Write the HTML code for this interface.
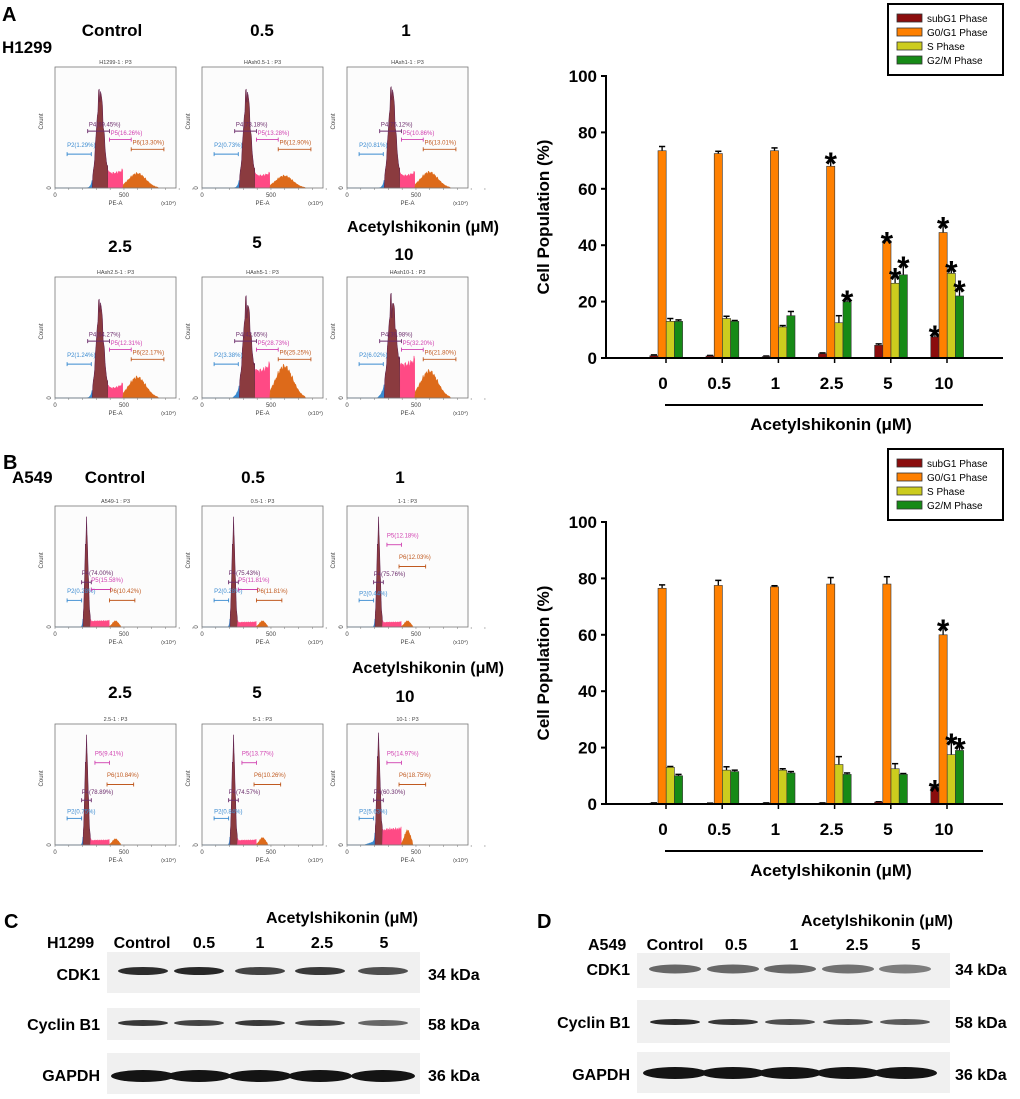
<!DOCTYPE html>
<html><head><meta charset="utf-8">
<style>
html,body{margin:0;padding:0;background:#fff;}
svg{display:block;font-family:"Liberation Sans",Arial,sans-serif;}
.b{font-weight:bold;}
</style></head>
<body>
<svg id="fig" width="1020" height="1099" viewBox="0 0 1020 1099" xmlns="http://www.w3.org/2000/svg">
<g id="static">
<text x="2" y="21" class="b" font-size="20">A</text>
<text x="2" y="53" class="b" font-size="17">H1299</text>
<text x="112" y="36" class="b" font-size="17" text-anchor="middle">Control</text>
<text x="262" y="36" class="b" font-size="17" text-anchor="middle">0.5</text>
<text x="406" y="36" class="b" font-size="17" text-anchor="middle">1</text>
<text x="423" y="232" class="b" font-size="16" text-anchor="middle">Acetylshikonin (μM)</text>
<text x="120" y="252" class="b" font-size="17" text-anchor="middle">2.5</text>
<text x="257" y="248" class="b" font-size="17" text-anchor="middle">5</text>
<text x="404" y="260" class="b" font-size="17" text-anchor="middle">10</text>

<text x="3" y="469" class="b" font-size="20">B</text>
<text x="12" y="483" class="b" font-size="17">A549</text>
<text x="115" y="483" class="b" font-size="17" text-anchor="middle">Control</text>
<text x="253" y="483" class="b" font-size="17" text-anchor="middle">0.5</text>
<text x="400" y="483" class="b" font-size="17" text-anchor="middle">1</text>
<text x="428" y="673" class="b" font-size="16" text-anchor="middle">Acetylshikonin (μM)</text>
<text x="120" y="698" class="b" font-size="17" text-anchor="middle">2.5</text>
<text x="257" y="698" class="b" font-size="17" text-anchor="middle">5</text>
<text x="405" y="702" class="b" font-size="17" text-anchor="middle">10</text>

<text x="4" y="928" class="b" font-size="20">C</text>
<text x="342" y="923" class="b" font-size="16" text-anchor="middle">Acetylshikonin (μM)</text>
<text x="47" y="948" class="b" font-size="16">H1299</text>
<text x="142" y="948" class="b" font-size="16" text-anchor="middle">Control</text>
<text x="204" y="948" class="b" font-size="16" text-anchor="middle">0.5</text>
<text x="260" y="948" class="b" font-size="16" text-anchor="middle">1</text>
<text x="322" y="948" class="b" font-size="16" text-anchor="middle">2.5</text>
<text x="384" y="948" class="b" font-size="16" text-anchor="middle">5</text>
<text x="100" y="980" class="b" font-size="16" text-anchor="end">CDK1</text>
<text x="100" y="1030" class="b" font-size="16" text-anchor="end">Cyclin B1</text>
<text x="100" y="1081" class="b" font-size="16" text-anchor="end">GAPDH</text>
<text x="428" y="980" class="b" font-size="16">34 kDa</text>
<text x="428" y="1030" class="b" font-size="16">58 kDa</text>
<text x="428" y="1081" class="b" font-size="16">36 kDa</text>

<text x="537" y="928" class="b" font-size="20">D</text>
<text x="877" y="926" class="b" font-size="16" text-anchor="middle">Acetylshikonin (μM)</text>
<text x="588" y="950" class="b" font-size="16">A549</text>
<text x="675" y="950" class="b" font-size="16" text-anchor="middle">Control</text>
<text x="736" y="950" class="b" font-size="16" text-anchor="middle">0.5</text>
<text x="794" y="950" class="b" font-size="16" text-anchor="middle">1</text>
<text x="857" y="950" class="b" font-size="16" text-anchor="middle">2.5</text>
<text x="916" y="950" class="b" font-size="16" text-anchor="middle">5</text>
<text x="630" y="975" class="b" font-size="16" text-anchor="end">CDK1</text>
<text x="630" y="1028" class="b" font-size="16" text-anchor="end">Cyclin B1</text>
<text x="630" y="1080" class="b" font-size="16" text-anchor="end">GAPDH</text>
<text x="955" y="975" class="b" font-size="16">34 kDa</text>
<text x="955" y="1028" class="b" font-size="16">58 kDa</text>
<text x="955" y="1080" class="b" font-size="16">36 kDa</text>
</g>
</svg>
<script>
const NS="http://www.w3.org/2000/svg";
const svg=document.getElementById('fig');
function mk(tag,attrs,parent,txt){const e=document.createElementNS(NS,tag);for(const k in attrs)e.setAttribute(k,attrs[k]);if(txt!==undefined)e.textContent=txt;(parent||svg).appendChild(e);return e;}

const doses=["0","0.5","1","2.5","5","10"];
const phases=["subG1 Phase","G0/G1 Phase","S Phase","G2/M Phase"];
const phaseColors=["#8b0d0d","#ff8000","#cccc1e","#168a16"];
const yTicks=[0,20,40,60,80,100];
const aSubG1=[0.8,0.7,0.5,1.5,4.5,7.5];
const aG0G1=[73.5,72.5,73.5,68,41.5,44.5];
const aS=[13,14,11,12.5,26.5,30];
const aG2M=[13,13,15,20,29.5,22];
const aSubG1Err=[0.3,0.2,0.2,0.3,0.5,2];
const aG0G1Err=[1.5,0.8,1,3,1.2,3.5];
const aSErr=[1,0.8,0.5,2.5,3.5,2.5];
const aG2MErr=[0.5,0.3,1.5,2,4.5,3.5];
const aStars=[[0,0,0,0,0,1],[0,0,0,1,1,1],[0,0,0,0,1,1],[0,0,0,1,1,1]];
const bSubG1=[0.3,0.2,0.3,0.3,0.7,6];
const bG0G1=[76.5,77.5,77,78,78,60];
const bS=[13,12,12,14,12.5,17.5];
const bG2M=[10,11.5,11,10.5,10.5,19];
const bSubG1Err=[0.1,0.1,0.1,0.1,0.1,0.5];
const bG0G1Err=[1.2,1.8,0.4,2.3,2.6,3.5];
const bSErr=[0.3,1.2,0.5,2.8,1.8,5.5];
const bG2MErr=[0.5,0.5,0.5,0.5,0.3,2.5];
const bStars=[[0,0,0,0,0,1],[0,0,0,0,0,1],[0,0,0,0,0,1],[0,0,0,0,0,1]];

function barChart(cfg){
  const g=mk('g',{},svg);
  
  
  const x0=606,x1=1003,yb=cfg.y0,yt=cfg.y100;
  const Y=v=>yb-(v/100)*(yb-yt);
  const X=i=>662+i*56.2;
  const bw=8.2;
  cfg.series.forEach((vals,s)=>{
    vals.forEach((v,i)=>{
      const bx=X(i)-4+(s-1)*bw;
      const top=Y(v);
      const e=cfg.errs[s][i];
      const ey=Y(v+e);
      const er=mk('line',{x1:bx+bw/2,x2:bx+bw/2,y1:top,y2:ey,stroke:'#000','stroke-width':1.3},g);
      
      
      const cap=mk('line',{x1:bx+1,x2:bx+bw-1,y1:ey,y2:ey,stroke:'#000','stroke-width':1.5},g);
      
      
      const r=mk('rect',{x:bx,y:top,width:bw,height:Math.max(yb-top,0.5),fill:phaseColors[s],stroke:'#333','stroke-width':0.6},g);
      
      
      if(cfg.stars[s][i]){
        const st=mk('text',{x:bx+bw/2,y:ey+17,'text-anchor':'middle','font-size':32,'font-weight':'bold'},g,'*');
        
        
      }
    });
  });
  const ya=mk('line',{x1:x0,x2:x0,y1:yt-1,y2:yb,stroke:'#000','stroke-width':2},g);
  
  
  const xa=mk('line',{x1:x0-5,x2:x1,y1:yb,y2:yb,stroke:'#000','stroke-width':2},g);
  
  
  yTicks.forEach(t=>{
    mk('line',{x1:x0-5,x2:x0,y1:Y(t),y2:Y(t),stroke:'#000','stroke-width':2},g);
    const tl=mk('text',{x:x0-9,y:Y(t)+6,'text-anchor':'end','font-size':17,'font-weight':'bold'},g,String(t));
    
    
  });
  doses.forEach((d,i)=>{
    mk('line',{x1:X(i)+4,x2:X(i)+4,y1:yb,y2:yb+5,stroke:'#000','stroke-width':1.5},g);
    const tl=mk('text',{x:X(i)+1,y:yb+31,'text-anchor':'middle','font-size':17,'font-weight':'bold'},g,d);
    
    
  });
  const yt2=mk('text',{x:0,y:0,'text-anchor':'middle','font-size':17,'font-weight':'bold',transform:`translate(549,${(yb+yt)/2}) rotate(-90)`},g,'Cell Population (%)');
  
  
  mk('line',{x1:665,x2:983,y1:yb+47,y2:yb+47,stroke:'#000','stroke-width':2},g);
  const xt=mk('text',{x:831,y:yb+72,'text-anchor':'middle','font-size':17,'font-weight':'bold'},g,'Acetylshikonin (μM)');
  
  
  const lg=mk('g',{},g);
  
  
  const ly=cfg.legY;
  mk('rect',{x:888,y:ly,width:115,height:71,fill:'#fff',stroke:'#000','stroke-width':2},lg);
  phases.forEach((p,s)=>{
    const yy=ly+10+s*14;
    mk('rect',{x:897,y:yy,width:25,height:8,fill:phaseColors[s],stroke:'#333','stroke-width':0.8},lg);
    const t=mk('text',{x:927,y:yy+8,'font-size':10},lg,p);
    
    
  });
}
barChart({name:'bar-chart-h1299',y0:358,y100:76,legY:4,series:[aSubG1,aG0G1,aS,aG2M],errs:[aSubG1Err,aG0G1Err,aSErr,aG2MErr],stars:aStars});
barChart({name:'bar-chart-a549',y0:804,y100:522,legY:449,series:[bSubG1,bG0G1,bS,bG2M],errs:[bSubG1Err,bG0G1Err,bSErr,bG2MErr],stars:bStars});

const panelTitles=["H1299-1 : P3","HAsh0.5-1 : P3","HAsh1-1 : P3","HAsh2.5-1 : P3","HAsh5-1 : P3","HAsh10-1 : P3",
 "A549-1 : P3","0.5-1 : P3","1-1 : P3","2.5-1 : P3","5-1 : P3","10-1 : P3"];
const gateP2=["P2(1.29%)","P2(0.73%)","P2(0.81%)","P2(1.24%)","P2(3.38%)","P2(6.02%)","P2(0.28%)","P2(0.28%)","P2(0.44%)","P2(0.75%)","P2(0.84%)","P2(5.63%)"];
const gateP4=["P4(69.45%)","P4(73.18%)","P4(75.12%)","P4(64.27%)","P4(42.65%)","P4(39.98%)","P4(74.00%)","P4(75.43%)","P4(75.76%)","P4(78.89%)","P4(74.57%)","P4(60.30%)"];
const gateP5=["P5(16.26%)","P5(13.28%)","P5(10.86%)","P5(12.31%)","P5(28.73%)","P5(32.20%)","P5(15.58%)","P5(11.81%)","P5(12.18%)","P5(9.41%)","P5(13.77%)","P5(14.97%)"];
const gateP6=["P6(13.30%)","P6(12.90%)","P6(13.01%)","P6(22.17%)","P6(25.25%)","P6(21.80%)","P6(10.42%)","P6(11.81%)","P6(12.03%)","P6(10.84%)","P6(10.26%)","P6(18.75%)"];
const peakH=[0.78,0.78,0.8,0.78,0.72,0.72,0.83,0.83,0.83,0.83,0.83,0.84];
const sH=[0.12,0.1,0.1,0.08,0.22,0.27,0.05,0.04,0.04,0.04,0.04,0.13];
const g2H=[0.12,0.1,0.13,0.17,0.26,0.22,0.05,0.05,0.05,0.05,0.06,0.12];
const tailH=[0.01,0.01,0.01,0.01,0.1,0.12,0,0,0,0,0,0.04];
const panelX=[55,202,347];
const panelY=[67,277,506,724];
const PW=121,PH=121;

function hist(idx){
  const row=Math.floor(idx/3),col=idx%3;
  const px=panelX[col],py=panelY[row];
  const isB=row>=2;
  const g=mk('g',{},svg);
  
  
  mk('rect',{x:px,y:py,width:PW,height:PH,fill:'#fcfcfc'},g);
  mk('text',{x:px+PW/2,y:py-3,'text-anchor':'middle','font-size':5.5,fill:'#444'},g,panelTitles[idx]);
  const pc=isB?0.26:0.37, pw=isB?0.013:0.028;
  const sEnd=isB?0.45:0.56, g2c=isB?0.5:0.68, g2w=isB?0.025:0.07, end=isB?0.55:0.86;
  const N=160;
  const pts=[];
  for(let k=0;k<=N;k++){
    const f=k/N*end;
    let h=peakH[idx]*Math.exp(-Math.pow((f-pc)/pw,2)/2);
    if(f>pc&&f<sEnd)h+=sH[idx]*(1-Math.exp(-(f-pc)/0.02));
    h+=g2H[idx]*Math.exp(-Math.pow((f-g2c)/g2w,2)/2);
    if(f<pc&&f>pc-0.12)h+=tailH[idx]*(f-(pc-0.12))/0.12;
    h*=(1+0.12*Math.sin(k*2.7)*Math.sin(k*1.3));
    if(f>end-0.01)h=0;
    pts.push([f,Math.min(h,0.95)]);
  }
  const bnds=[0,pc-2.2*pw,pc+2.5*pw,sEnd,end];
  const cols=['#3a8ad0','#8b3b3f','#ff4a85','#dd6a1a'];
  const base=py+PH;
  for(let r=0;r<4;r++){
    let d=`M${px+bnds[r]*PW},${base}`;
    pts.forEach(p=>{if(p[0]>=bnds[r]&&p[0]<=bnds[r+1])d+=`L${px+p[0]*PW},${base-p[1]*PH}`;});
    d+=`L${px+bnds[r+1]*PW},${base}Z`;
    mk('path',{d:d,fill:cols[r],stroke:r==1?'#5a1a4a':cols[r],'stroke-width':0.5},g);
  }
  mk('rect',{x:px,y:py,width:PW,height:PH,fill:'none',stroke:'#777','stroke-width':0.8},g);
  for(let t=0;t<=10;t++){mk('line',{x1:px+t*PW*0.114,x2:px+t*PW*0.114,y1:base,y2:base+2,stroke:'#777','stroke-width':0.5},g);}
  mk('text',{x:px,y:base+9,'text-anchor':'middle','font-size':6,fill:'#444'},g,'0');
  mk('text',{x:px+0.57*PW,y:base+9,'text-anchor':'middle','font-size':6,fill:'#444'},g,'500');
  mk('text',{x:px+0.5*PW,y:base+17,'text-anchor':'middle','font-size':6,fill:'#444'},g,'PE-A');
  mk('text',{x:px+PW,y:base+17,'text-anchor':'end','font-size':5.5,fill:'#444'},g,'(x10⁴)');
  mk('text',{x:0,y:0,'text-anchor':'middle','font-size':6,fill:'#444',transform:`translate(${px-12},${py+PH*0.45}) rotate(-90)`},g,'Count');
  mk('text',{x:0,y:0,'text-anchor':'middle','font-size':6,fill:'#444',transform:`translate(${px-4},${base}) rotate(-90)`},g,'0');
  function gate(x1,x2,yf,color,label,lx,ly){
    const y=py+yf*PH;
    mk('line',{x1:px+x1*PW,x2:px+x2*PW,y1:y,y2:y,stroke:color,'stroke-width':0.9},g);
    mk('line',{x1:px+x1*PW,x2:px+x1*PW,y1:y-2,y2:y+2,stroke:color,'stroke-width':0.9},g);
    mk('line',{x1:px+x2*PW,x2:px+x2*PW,y1:y-2,y2:y+2,stroke:color,'stroke-width':0.9},g);
    mk('text',{x:px+lx*PW,y:py+ly*PH,'font-size':6,fill:color},g,label);
  }
  if(!isB){
    gate(0.1,0.3,0.72,'#3a8ad0',gateP2[idx],0.1,0.66);
    gate(0.27,0.45,0.53,'#6a2a6a',gateP4[idx],0.28,0.49);
    gate(0.45,0.63,0.6,'#d040b0',gateP5[idx],0.46,0.56);
    gate(0.63,0.9,0.68,'#c05a20',gateP6[idx],0.64,0.64);
  } else if(idx<8){
    gate(0.1,0.22,0.78,'#3a8ad0',gateP2[idx],0.1,0.72);
    gate(0.22,0.3,0.63,'#6a2a6a',gateP4[idx],0.22,0.57);
    gate(0.3,0.46,0.69,'#d040b0',gateP5[idx],0.3,0.63);
    gate(0.45,0.66,0.78,'#c05a20',gateP6[idx],0.45,0.72);
  } else {
    gate(0.1,0.22,0.78,'#3a8ad0',gateP2[idx],0.1,0.74);
    gate(0.22,0.3,0.63,'#6a2a6a',gateP4[idx],0.22,0.58);
    gate(0.33,0.45,0.32,'#d040b0',gateP5[idx],0.33,0.26);
    gate(0.43,0.65,0.5,'#c05a20',gateP6[idx],0.43,0.44);
  }
}
for(let i=0;i<12;i++)hist(i);

const cLanes=[143,199,260,320,383];
const dLanes=[675,733,790,848,905];
const cCdk1=[0.9,0.92,0.8,0.85,0.75];
const cCyc=[0.85,0.8,0.85,0.8,0.65];
const cGapdh=[1,1,1,1,1];
const dCdk1=[0.65,0.65,0.65,0.6,0.55];
const dCyc=[0.9,0.85,0.75,0.75,0.7];
const dGapdh=[1,1,1,1,1];
function blot(name,x,y,w,h,lanes,vals,bandY,bandH,laneW){
  const g=mk('g',{},svg);
  
  
  mk('rect',{x:x,y:y,width:w,height:h,fill:'#f0f0f0'},g);
  lanes.forEach((cx,i)=>{
    const v=vals[i];
    const c=Math.round(255*(1-v*0.92));
    const e=mk('ellipse',{cx:cx,cy:bandY,rx:laneW/2,ry:bandH/2,fill:`rgb(${c},${c},${c})`},g);
    
    
  });
}
blot('blot-c-cdk1',107,952,313,41,cLanes,cCdk1,971,8,50);
blot('blot-c-cyclinb1',107,1008,313,32,cLanes,cCyc,1023,6,50);
blot('blot-c-gapdh',107,1053,313,41,cLanes,cGapdh,1076,12,64);
blot('blot-d-cdk1',637,953,313,35,dLanes,dCdk1,969,9,52);
blot('blot-d-cyclinb1',637,1000,313,43,dLanes,dCyc,1022,6,50);
blot('blot-d-gapdh',637,1052,313,41,dLanes,dGapdh,1073,12,64);
</script>
</body></html>
